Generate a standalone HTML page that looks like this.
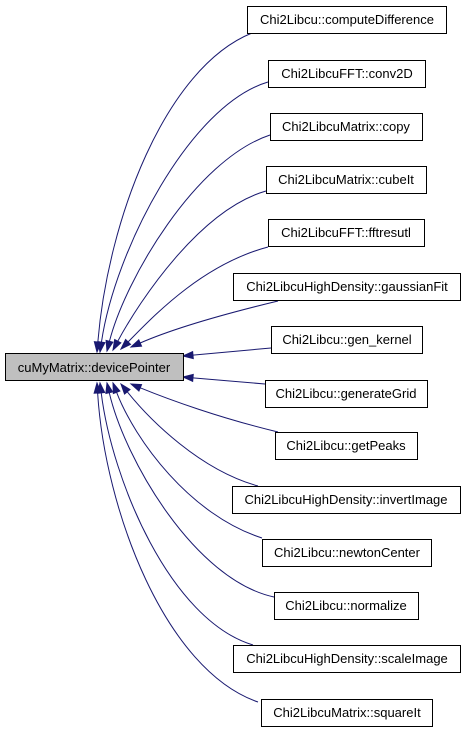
<!DOCTYPE html>
<html><head><meta charset="utf-8"><style>
html,body{margin:0;padding:0;background:#fff;}
svg{display:block;}
text{font-family:"Liberation Sans",Arial,sans-serif;font-size:13px;fill:#000;}
</style></head><body>
<svg id="g" width="467" height="733" viewBox="0 0 467 733" xmlns="http://www.w3.org/2000/svg">
<g id="edges" fill="none" stroke="#191970" stroke-width="1"></g>
<g id="arrows" fill="#191970" stroke="#191970"></g>
<rect x="5.5" y="353.5" width="178" height="27" fill="#bfbfbf" stroke="#000"/>
<text x="94" y="372" text-anchor="middle">cuMyMatrix::devicePointer</text>
<g fill="#fff" stroke="#000">
<rect x="247.5" y="6.5" width="199" height="27"/>
<rect x="268.5" y="60.5" width="157" height="27"/>
<rect x="270.5" y="113.5" width="152" height="27"/>
<rect x="266.5" y="166.5" width="160" height="27"/>
<rect x="268.5" y="219.5" width="156" height="27"/>
<rect x="233.5" y="273.5" width="227" height="27"/>
<rect x="271.5" y="326.5" width="151" height="27"/>
<rect x="265.5" y="380.5" width="162" height="27"/>
<rect x="275.5" y="432.5" width="142" height="27"/>
<rect x="232.5" y="486.5" width="228" height="27"/>
<rect x="262.5" y="539.5" width="169" height="27"/>
<rect x="274.5" y="592.5" width="144" height="27"/>
<rect x="233.5" y="645.5" width="227" height="27"/>
<rect x="261.5" y="699.5" width="171" height="27"/>
</g>
<text x="347" y="24" text-anchor="middle">Chi2Libcu::computeDifference</text>
<text x="347" y="78" text-anchor="middle">Chi2LibcuFFT::conv2D</text>
<text x="346" y="131" text-anchor="middle">Chi2LibcuMatrix::copy</text>
<text x="346" y="184" text-anchor="middle">Chi2LibcuMatrix::cubeIt</text>
<text x="346" y="237" text-anchor="middle">Chi2LibcuFFT::fftresutl</text>
<text x="347" y="291" text-anchor="middle">Chi2LibcuHighDensity::gaussianFit</text>
<text x="347" y="344" text-anchor="middle">Chi2Libcu::gen_kernel</text>
<text x="346" y="398" text-anchor="middle">Chi2Libcu::generateGrid</text>
<text x="346" y="450" text-anchor="middle">Chi2Libcu::getPeaks</text>
<text x="346" y="504" text-anchor="middle">Chi2LibcuHighDensity::invertImage</text>
<text x="347" y="557" text-anchor="middle">Chi2Libcu::newtonCenter</text>
<text x="346" y="610" text-anchor="middle">Chi2Libcu::normalize</text>
<text x="347" y="663" text-anchor="middle">Chi2LibcuHighDensity::scaleImage</text>
<text x="347" y="717" text-anchor="middle">Chi2LibcuMatrix::squareIt</text>
</svg>
<script>
var E=[
[252,33,165,68,108,220,97,352],
[268,82,190,105,115,250,100,352],
[270,135,195,160,125,280,107,351],
[266,191,200,210,140,300,113,350],
[268,247,200,265,150,320,121,349],
[278,301,220,315,170,330,131,347],
[271,348,null,null,null,null,183,356],
[265,384,null,null,null,null,183,377],
[278,432,220,418,170,400,131,384],
[258,486,200,470,150,420,121,384],
[262,538,190,515,135,440,113,383],
[274,597,195,580,125,460,107,383],
[253,645,170,620,112,480,100,383],
[258,702,165,670,105,510,97,383]];
var ns="http://www.w3.org/2000/svg",eg=document.getElementById('edges'),ag=document.getElementById('arrows');
E.forEach(function(e){
 var sx=e[0],sy=e[1],tx=e[6],ty=e[7],px,py;
 if(e[2]===null){px=sx;py=sy;}else{px=e[4];py=e[5];}
 var dx=tx-px,dy=ty-py,l=Math.sqrt(dx*dx+dy*dy);dx/=l;dy/=l;
 var bx=tx-10*dx,by=ty-10*dy;
 var d=e[2]===null?('M'+sx+','+sy+' L'+bx+','+by):('M'+sx+','+sy+' C'+e[2]+','+e[3]+' '+e[4]+','+e[5]+' '+bx+','+by);
 var p=document.createElementNS(ns,'path');p.setAttribute('d',d);eg.appendChild(p);
 var nx=-dy*3.5,ny=dx*3.5;
 var a=document.createElementNS(ns,'polygon');
 a.setAttribute('points',tx+','+ty+' '+(bx+nx)+','+(by+ny)+' '+(bx-nx)+','+(by-ny));
 ag.appendChild(a);
});
</script>
</body></html>
